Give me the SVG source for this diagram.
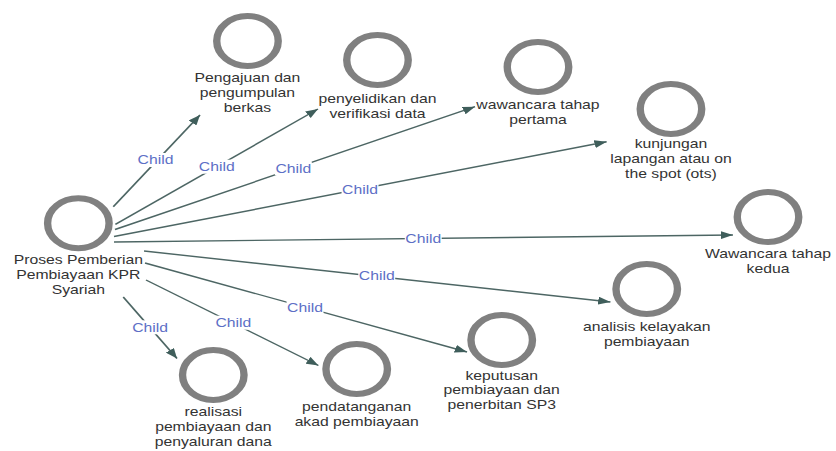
<svg xmlns="http://www.w3.org/2000/svg" width="836" height="451" viewBox="0 0 836 451">
<style>
  .ring { fill: none; stroke: #808080; stroke-width: 6; }
  .nt { font-family: "Liberation Sans", Arial, sans-serif; font-size: 12.8px; fill: #333333; text-anchor: middle; }
  .edge { fill: none; stroke: #4d6664; stroke-width: 1.4; marker-end: url(#arr); }
  .lbg { fill: #ffffff; }
  .lt { font-family: "Liberation Sans", Arial, sans-serif; font-size: 12.8px; fill: #5d6fc6; text-anchor: middle; }
</style>
<defs>
  <marker id="arr" markerUnits="userSpaceOnUse" markerWidth="10" markerHeight="8" refX="10" refY="4" orient="auto">
    <path d="M0,0 L10,4 L0,8 z" fill="#3f5e5b"/>
  </marker>
</defs>
<rect x="0" y="0" width="836" height="451" fill="#ffffff"/>
<g transform="scale(1.23,1)">
  <g id="connectors">
    <line class="edge" x1="92.1" y1="206.7" x2="162.6" y2="115"/>
    <line class="edge" x1="93.8" y1="224.4" x2="258.5" y2="109"/>
    <line class="edge" x1="93.5" y1="229.5" x2="386.2" y2="106.7"/>
    <line class="edge" x1="92.7" y1="236.5" x2="493.2" y2="141.7"/>
    <line class="edge" x1="92.7" y1="242" x2="595.9" y2="235"/>
    <line class="edge" x1="117.1" y1="251" x2="496.3" y2="302"/>
    <line class="edge" x1="117.9" y1="263" x2="379.7" y2="352"/>
    <line class="edge" x1="118.7" y1="280" x2="258.9" y2="365.5"/>
    <line class="edge" x1="100.2" y1="297" x2="143.9" y2="358.5"/>
    <g id="edge-labels">
      <rect class="lbg" x="111.4" y="153" width="30" height="14"/><text class="lt" x="126.4" y="164.5">Child</text>
      <rect class="lbg" x="161.2" y="159.7" width="30" height="14"/><text class="lt" x="176.2" y="171.2">Child</text>
      <rect class="lbg" x="223.5" y="161.3" width="30" height="14"/><text class="lt" x="238.5" y="172.8">Child</text>
      <rect class="lbg" x="277.7" y="182.3" width="30" height="14"/><text class="lt" x="292.7" y="193.8">Child</text>
      <rect class="lbg" x="329.1" y="231.3" width="30" height="14"/><text class="lt" x="344.1" y="242.8">Child</text>
      <rect class="lbg" x="291.3" y="269" width="30" height="14"/><text class="lt" x="306.3" y="280.5">Child</text>
      <rect class="lbg" x="233" y="300.3" width="30" height="14"/><text class="lt" x="248" y="311.8">Child</text>
      <rect class="lbg" x="174.7" y="315.7" width="30" height="14"/><text class="lt" x="189.7" y="327.2">Child</text>
      <rect class="lbg" x="107" y="320.3" width="30" height="14"/><text class="lt" x="122" y="331.8">Child</text>
    </g>
  </g>
  <g id="node-root">
    <circle class="ring" cx="63.7" cy="223.3" r="25"/>
    <text class="nt" x="63.7" y="264"><tspan x="63.7">Proses Pemberian</tspan><tspan x="63.7" dy="15">Pembiayaan KPR</tspan><tspan x="63.7" dy="15">Syariah</tspan></text>
  </g>
  <g id="node-pengajuan">
    <circle class="ring" cx="201.2" cy="41" r="25"/>
    <text class="nt" x="201.2" y="82"><tspan x="201.2">Pengajuan dan</tspan><tspan x="201.2" dy="15">pengumpulan</tspan><tspan x="201.2" dy="15">berkas</tspan></text>
  </g>
  <g id="node-penyelidikan">
    <circle class="ring" cx="306.9" cy="60" r="25"/>
    <text class="nt" x="306.9" y="103"><tspan x="306.9">penyelidikan dan</tspan><tspan x="306.9" dy="15">verifikasi data</tspan></text>
  </g>
  <g id="node-wawancara1">
    <circle class="ring" cx="437.4" cy="67" r="25"/>
    <text class="nt" x="437.4" y="109"><tspan x="437.4">wawancara tahap</tspan><tspan x="437.4" dy="15">pertama</tspan></text>
  </g>
  <g id="node-kunjungan">
    <circle class="ring" cx="545.5" cy="109" r="25"/>
    <text class="nt" x="545.5" y="148.5"><tspan x="545.5">kunjungan</tspan><tspan x="545.5" dy="15">lapangan atau on</tspan><tspan x="545.5" dy="15">the spot (ots)</tspan></text>
  </g>
  <g id="node-wawancara2">
    <circle class="ring" cx="624.4" cy="217" r="25"/>
    <text class="nt" x="624.4" y="258.5"><tspan x="624.4">Wawancara tahap</tspan><tspan x="624.4" dy="15">kedua</tspan></text>
  </g>
  <g id="node-analisis">
    <circle class="ring" cx="525.8" cy="289" r="25"/>
    <text class="nt" x="525.8" y="331.5"><tspan x="525.8">analisis kelayakan</tspan><tspan x="525.8" dy="15">pembiayaan</tspan></text>
  </g>
  <g id="node-keputusan">
    <circle class="ring" cx="407.9" cy="340" r="25"/>
    <text class="nt" x="407.9" y="380"><tspan x="407.9">keputusan</tspan><tspan x="407.9" dy="14.5">pembiayaan dan</tspan><tspan x="407.9" dy="14.5">penerbitan SP3</tspan></text>
  </g>
  <g id="node-pendatanganan">
    <circle class="ring" cx="290" cy="369" r="25"/>
    <text class="nt" x="290" y="411.5"><tspan x="290">pendatanganan</tspan><tspan x="290" dy="14.5">akad pembiayaan</tspan></text>
  </g>
  <g id="node-realisasi">
    <circle class="ring" cx="173.4" cy="375" r="25"/>
    <text class="nt" x="173.4" y="416.5"><tspan x="173.4">realisasi</tspan><tspan x="173.4" dy="15">pembiayaan dan</tspan><tspan x="173.4" dy="15">penyaluran dana</tspan></text>
  </g>
</g>
</svg>
